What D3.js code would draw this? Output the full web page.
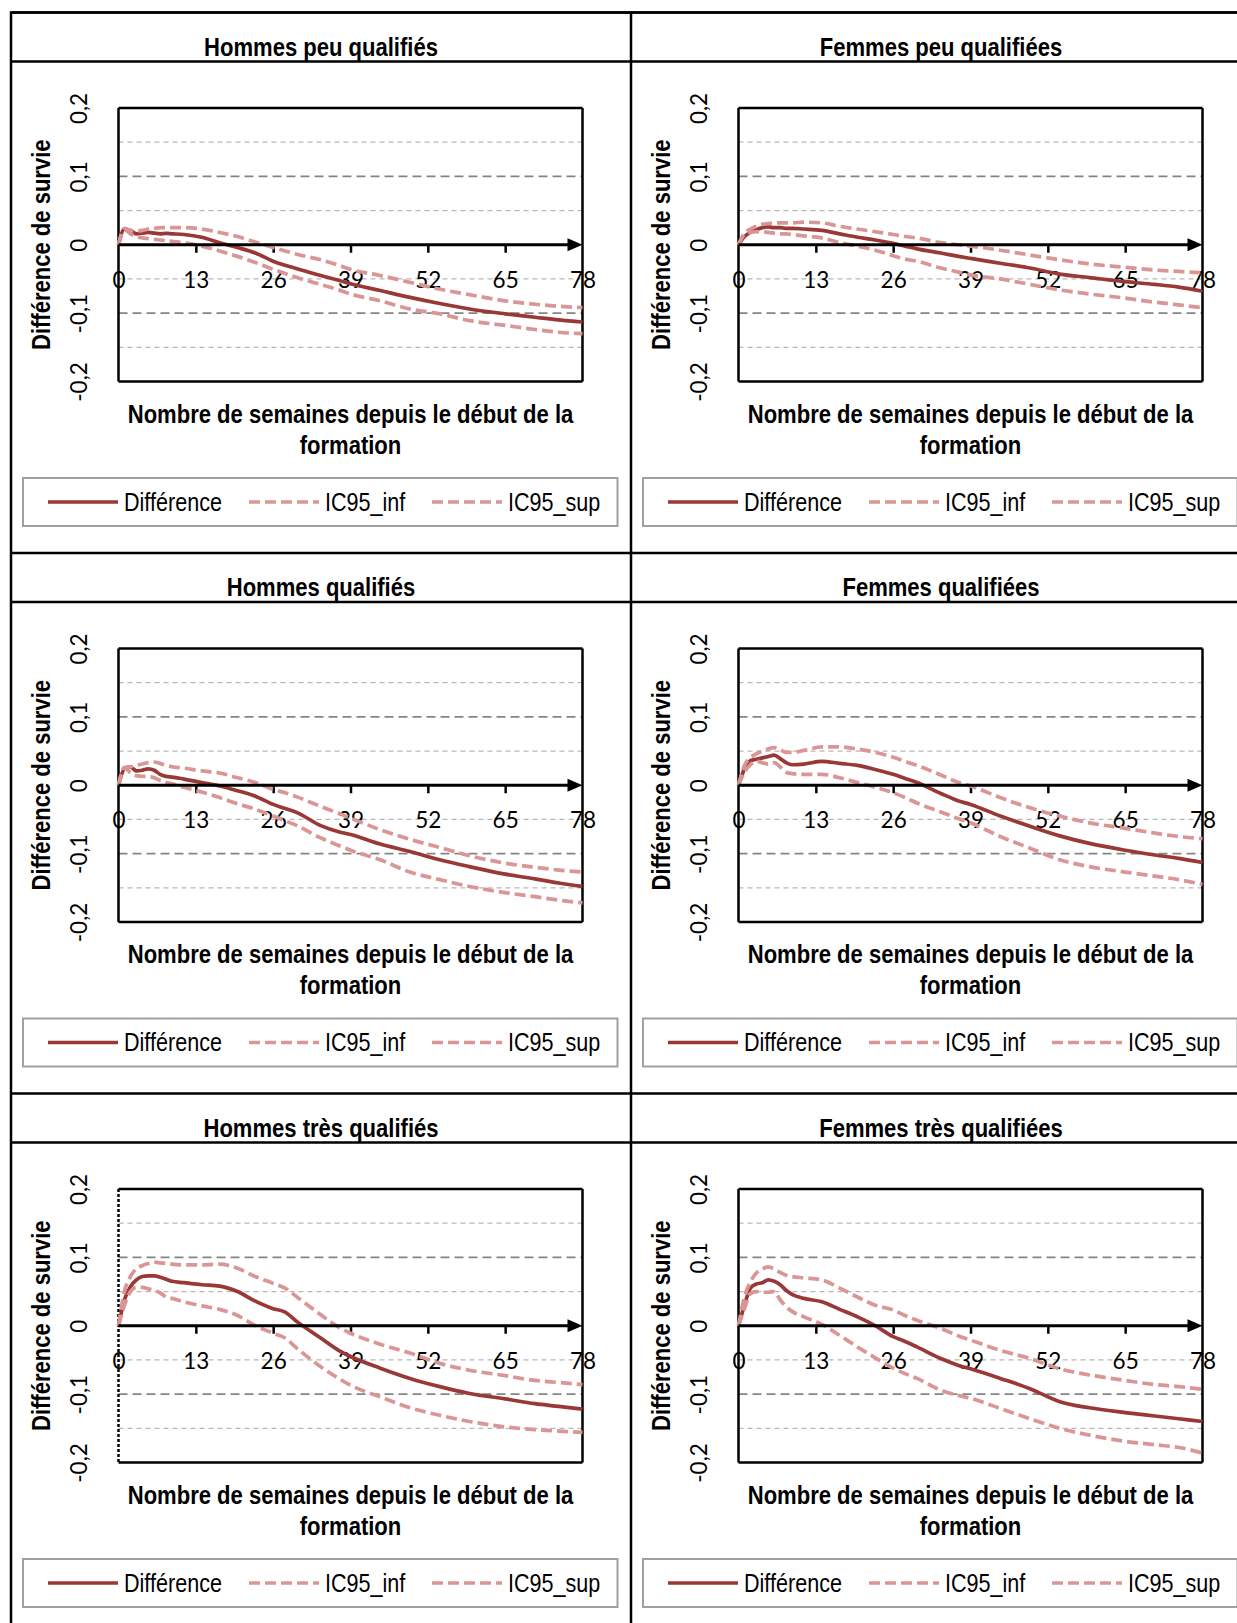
<!DOCTYPE html>
<html lang="fr">
<head>
<meta charset="utf-8">
<script src="https://cdnjs.cloudflare.com/ajax/libs/d3/7.8.5/d3.min.js"></script>
<style>
  body { margin: 0; background: #fff; }
  svg { display: block; }
  .lab { font-family: "Liberation Sans", Arial, sans-serif; font-size: 25px; fill: #000; }
  .tick text { font-family: Lato, "Noto Sans", sans-serif; font-size: 22.5px; fill: #000; }
</style>
</head>
<body>
<div id="chart"></div>
<script>
// Différence de survie par semaine, 6 groupes
const weeks = [0, 1, 2, 3, 4, 5, 6, 7, 8, 9, 11, 14, 17, 20, 23, 26, 28, 30, 34, 37, 39, 44, 49, 54, 59, 65, 70, 74, 78];

const hpqDiff = [0, .023, .021, .016, .017, .018, .017, .016, .0165, .016, .015, .011, .003, -.004, -.012, -.024, -.030, -.035, -.045, -.052, -.057, -.067, -.077, -.086, -.094, -.101, -.106, -.110, -.113];
const hpqSup  = [0, .024, .021, .020, .021, .023, .024, .025, .025, .025, .025, .023, .018, .012, .004, -.004, -.009, -.014, -.022, -.030, -.036, -.045, -.055, -.065, -.073, -.082, -.087, -.090, -.092];
const hpqInf  = [0, .022, .016, .012, .010, .009, .008, .007, .006, .005, .003, -.002, -.009, -.017, -.026, -.036, -.042, -.048, -.058, -.066, -.072, -.082, -.094, -.101, -.111, -.118, -.124, -.128, -.130];

const fpqDiff = [0, .012, .018, .022, .025, .026, .025, .025, .024, .024, .023, .021, .016, .011, .007, .002, -.002, -.006, -.012, -.017, -.020, -.027, -.034, -.043, -.048, -.054, -.058, -.062, -.068];
const fpqSup  = [0, .017, .023, .027, .030, .031, .032, .032, .032, .032, .033, .032, .027, .023, .019, .015, .012, .010, .003, .000, -.002, -.008, -.015, -.022, -.028, -.033, -.037, -.039, -.041];
const fpqInf  = [0, .015, .018, .019, .019, .018, .017, .016, .016, .015, .013, .010, .003, -.002, -.008, -.016, -.021, -.024, -.034, -.040, -.044, -.050, -.058, -.066, -.072, -.078, -.084, -.088, -.092];

const hqDiff = [0, .024, .027, .021, .022, .024, .022, .016, .013, .012, .009, .004, -.001, -.008, -.016, -.028, -.034, -.040, -.059, -.068, -.072, -.086, -.097, -.109, -.119, -.130, -.137, -.143, -.148];
const hqSup  = [0, .025, .027, .029, .031, .033, .034, .032, .029, .027, .025, .021, .018, .011, .004, -.006, -.011, -.017, -.031, -.041, -.048, -.065, -.079, -.091, -.103, -.114, -.120, -.124, -.127];
const hqInf  = [0, .026, .018, .014, .013, .013, .011, .007, .004, .002, -.003, -.010, -.018, -.027, -.035, -.045, -.052, -.059, -.077, -.088, -.095, -.109, -.127, -.138, -.148, -.157, -.163, -.168, -.172];

const fqDiff = [0, .024, .036, .038, .040, .042, .044, .039, .033, .030, .031, .035, .032, .029, .023, .016, .010, .004, -.012, -.023, -.028, -.045, -.060, -.074, -.085, -.095, -.102, -.107, -.113];
const fqSup  = [0, .029, .040, .046, .050, .053, .055, .052, .048, .048, .051, .056, .056, .053, .048, .041, .035, .029, .015, .004, -.001, -.018, -.033, -.045, -.055, -.063, -.070, -.075, -.078];
const fqInf  = [0, .019, .030, .035, .033, .031, .033, .027, .019, .017, .016, .016, .011, .004, -.003, -.011, -.018, -.026, -.039, -.049, -.055, -.075, -.092, -.109, -.119, -.127, -.133, -.138, -.145];

const htqDiff = [0, .038, .057, .067, .072, .073, .073, .071, .068, .065, .063, .060, .058, .050, .036, .025, .020, .006, -.018, -.036, -.045, -.062, -.077, -.089, -.099, -.107, -.114, -.118, -.122];
const htqSup  = [0, .050, .072, .083, .088, .091, .093, .092, .091, .090, .089, .089, .090, .084, .072, .062, .055, .042, .016, -.002, -.011, -.027, -.040, -.055, -.065, -.073, -.080, -.083, -.086];
const htqInf  = [0, .030, .050, .056, .056, .054, .052, .048, .042, .040, .035, .029, .024, .015, .000, -.011, -.018, -.033, -.060, -.077, -.087, -.104, -.120, -.131, -.140, -.148, -.152, -.154, -.156];

const ftqDiff = [0, .030, .055, .061, .063, .067, .065, .060, .052, .046, .040, .035, .024, .013, .000, -.016, -.023, -.031, -.048, -.058, -.063, -.077, -.092, -.111, -.120, -.127, -.132, -.136, -.140];
const ftqSup  = [0, .042, .064, .077, .083, .086, .083, .078, .074, .072, .070, .067, .055, .042, .030, .023, .015, .008, -.004, -.015, -.021, -.036, -.048, -.063, -.072, -.080, -.086, -.089, -.093];
const ftqInf  = [0, .025, .047, .050, .049, .049, .050, .038, .028, .021, .013, .002, -.014, -.031, -.047, -.062, -.070, -.077, -.094, -.102, -.106, -.121, -.136, -.150, -.160, -.169, -.174, -.178, -.186];

const panelTitles = ['Hommes peu qualifiés', 'Femmes peu qualifiées', 'Hommes qualifiés',
                     'Femmes qualifiées', 'Hommes très qualifiés', 'Femmes très qualifiées'];
const xTicks = [0, 13, 26, 39, 52, 65, 78];
const yTicks = [-0.2, -0.1, 0, 0.1, 0.2];
const gridMajor = [-0.1, 0.1];
const gridMinor = [-0.15, -0.05, 0.05, 0.15];
const legendLabels = ['Différence', 'IC95_inf', 'IC95_sup'];
const yTitle = 'Différence de survie';
const xTitleLines = ['Nombre de semaines depuis le début de la', 'formation'];

const panels = [
  { title: panelTitles[0], diff: hpqDiff, inf: hpqInf, sup: hpqSup },
  { title: panelTitles[1], diff: fpqDiff, inf: fpqInf, sup: fpqSup },
  { title: panelTitles[2], diff: hqDiff, inf: hqInf, sup: hqSup },
  { title: panelTitles[3], diff: fqDiff, inf: fqInf, sup: fqSup },
  { title: panelTitles[4], diff: htqDiff, inf: htqInf, sup: htqSup, dottedLeft: true },
  { title: panelTitles[5], diff: ftqDiff, inf: ftqInf, sup: ftqSup }
];

const colors = { diff: '#993836', ci: '#DA9694' };

// page layout
const W = 1237, H = 1623;
const frame = { left: 11, top: 12.5, colW: 620, rowH: 540.5, header: 49 };
const box = { left: 107.5, right: 571.5, top: 95.5, bottom: 369 };

const fmt = d3.formatLocale({ decimal: ',', thousands: ' ', grouping: [3], currency: ['', ''], minus: '-' }).format('~g');

const svg = d3.select('#chart').append('svg')
  .attr('width', W)
  .attr('height', H);

svg.append('rect').attr('width', W).attr('height', H).attr('fill', '#fff');

// the original uses a condensed face: squeeze the text horizontally to its widths
const probe = svg.append('text').attr('class', 'lab').style('font-weight', 'bold').text(panelTitles[0]);
const boldSqueeze = 234 / probe.node().getComputedTextLength();
probe.style('font-weight', null).text(legendLabels[0]);
const regSqueeze = 98 / probe.node().getComputedTextLength();
probe.remove();

function label(g, x, y, str, opts = {}) {
  const s = opts.bold ? boldSqueeze : regSqueeze;
  const rot = opts.rotate ? ` rotate(${opts.rotate})` : '';
  return g.append('text')
    .attr('class', 'lab')
    .attr('transform', `translate(${x},${y})${rot} scale(${s},1)`)
    .attr('text-anchor', opts.anchor || 'start')
    .attr('dominant-baseline', opts.baseline || null)
    .style('font-weight', opts.bold ? 'bold' : null)
    .text(str);
}

panels.forEach((p, i) => {
  const col = i % 2, row = Math.floor(i / 2);
  const g = svg.append('g')
    .attr('transform', `translate(${frame.left + col * frame.colW},${frame.top + row * frame.rowH})`);
  drawPanel(g, p);
});

drawFrame();

function drawPanel(g, p) {
  const x = d3.scaleLinear().domain([0, 78]).range([box.left, box.right]);
  const y = d3.scaleLinear().domain([-0.2, 0.2]).range([box.bottom, box.top]);
  const cx = (box.left + box.right) / 2;

  label(g, frame.colW / 2, 43, p.title, { bold: true, anchor: 'middle' });

  // gridlines
  g.selectAll('.grid-minor')
    .data(gridMinor)
    .enter().append('line')
    .attr('x1', box.left).attr('x2', box.right)
    .attr('y1', d => y(d)).attr('y2', d => y(d))
    .attr('stroke', '#b8b8b8')
    .attr('stroke-width', 1.3)
    .attr('stroke-dasharray', '5,4');

  g.selectAll('.grid-major')
    .data(gridMajor)
    .enter().append('line')
    .attr('x1', box.left).attr('x2', box.right)
    .attr('y1', d => y(d)).attr('y2', d => y(d))
    .attr('stroke', '#858585')
    .attr('stroke-width', 1.8)
    .attr('stroke-dasharray', '9,5');

  // plot box
  const edges = [
    [box.left, box.top, box.right, box.top],
    [box.right, box.top, box.right, box.bottom],
    [box.left, box.bottom, box.right, box.bottom],
    [box.left, box.top, box.left, box.bottom]
  ];
  edges.forEach((e, k) => {
    g.append('line')
      .attr('x1', e[0]).attr('y1', e[1]).attr('x2', e[2]).attr('y2', e[3])
      .attr('stroke', '#000')
      .attr('stroke-width', 2.5)
      .attr('stroke-dasharray', (k === 3 && p.dottedLeft) ? '3,2' : null);
  });

  // x axis at zero
  const xAxis = d3.axisBottom(x)
    .tickValues(xTicks)
    .tickSizeInner(8)
    .tickSizeOuter(0)
    .tickPadding(19);

  const ax = g.append('g')
    .attr('class', 'x-axis')
    .attr('transform', `translate(0,${y(0)})`)
    .call(xAxis);
  ax.select('.domain').remove();
  ax.selectAll('.tick line')
    .attr('stroke', '#000')
    .attr('stroke-width', 2.5)
    .filter(d => d === 0 || d === 78).remove();

  // y axis labels, rotated
  const yAxis = d3.axisLeft(y).tickValues(yTicks).tickSize(0).tickFormat(fmt);
  const ay = g.append('g')
    .attr('class', 'y-axis')
    .attr('transform', `translate(${box.left},0)`)
    .call(yAxis);
  ay.select('.domain').remove();
  ay.selectAll('.tick text')
    .attr('x', null)
    .attr('dy', null)
    .attr('transform', 'translate(-40,0) rotate(-90)')
    .attr('text-anchor', 'middle')
    .attr('dominant-baseline', 'central');

  // series
  const line = d3.line()
    .x((d, k) => x(weeks[k]))
    .y(d => y(d))
    .curve(d3.curveMonotoneX);

  g.append('path')
    .datum(p.diff)
    .attr('d', line)
    .attr('fill', 'none')
    .attr('stroke', colors.diff)
    .attr('stroke-width', 3.7)
    .attr('stroke-linejoin', 'round');

  [p.inf, p.sup].forEach(s => {
    g.append('path')
      .datum(s)
      .attr('d', line)
      .attr('fill', 'none')
      .attr('stroke', colors.ci)
      .attr('stroke-width', 3.7)
      .attr('stroke-dasharray', '11,5');
  });

  // axis line with arrow head
  g.append('line')
    .attr('x1', x(0)).attr('x2', x(78) - 10)
    .attr('y1', y(0)).attr('y2', y(0))
    .attr('stroke', '#000')
    .attr('stroke-width', 3);
  g.append('path')
    .attr('d', `M${x(78)},${y(0)}L${x(78) - 15},${y(0) - 6.5}L${x(78) - 15},${y(0) + 6.5}Z`)
    .attr('fill', '#000');

  // axis titles
  label(g, 31, (box.top + box.bottom) / 2, yTitle,
    { bold: true, anchor: 'middle', baseline: 'central', rotate: -90 });

  xTitleLines.forEach((t, k) => {
    label(g, cx, 410 + k * 31, t, { bold: true, anchor: 'middle' });
  });

  // legend
  g.append('rect')
    .attr('x', 12).attr('y', 465.5)
    .attr('width', 594.5).attr('height', 48)
    .attr('fill', 'none')
    .attr('stroke', '#a0a0a0')
    .attr('stroke-width', 2);

  const legendX = [37, 238, 421];
  legendLabels.forEach((name, k) => {
    g.append('line')
      .attr('x1', legendX[k]).attr('x2', legendX[k] + 70)
      .attr('y1', 489.5).attr('y2', 489.5)
      .attr('stroke', k === 0 ? colors.diff : colors.ci)
      .attr('stroke-width', 3.7)
      .attr('stroke-dasharray', k === 0 ? null : '11,5');
    label(g, legendX[k] + 76, 498, name);
  });
}

function drawFrame() {
  const f = svg.append('g')
    .attr('fill', 'none')
    .attr('stroke', '#000')
    .attr('stroke-width', 2.5);
  const right = frame.left + 2 * frame.colW;
  f.append('rect')
    .attr('x', frame.left).attr('y', frame.top)
    .attr('width', 2 * frame.colW).attr('height', 3 * frame.rowH);
  f.append('line')
    .attr('x1', frame.left + frame.colW).attr('x2', frame.left + frame.colW)
    .attr('y1', frame.top).attr('y2', frame.top + 3 * frame.rowH);
  d3.range(3).forEach(r => {
    const top = frame.top + r * frame.rowH;
    f.append('line').attr('x1', frame.left).attr('x2', right).attr('y1', top).attr('y2', top);
    f.append('line').attr('x1', frame.left).attr('x2', right)
      .attr('y1', top + frame.header).attr('y2', top + frame.header);
  });
}
</script>
</body>
</html>
